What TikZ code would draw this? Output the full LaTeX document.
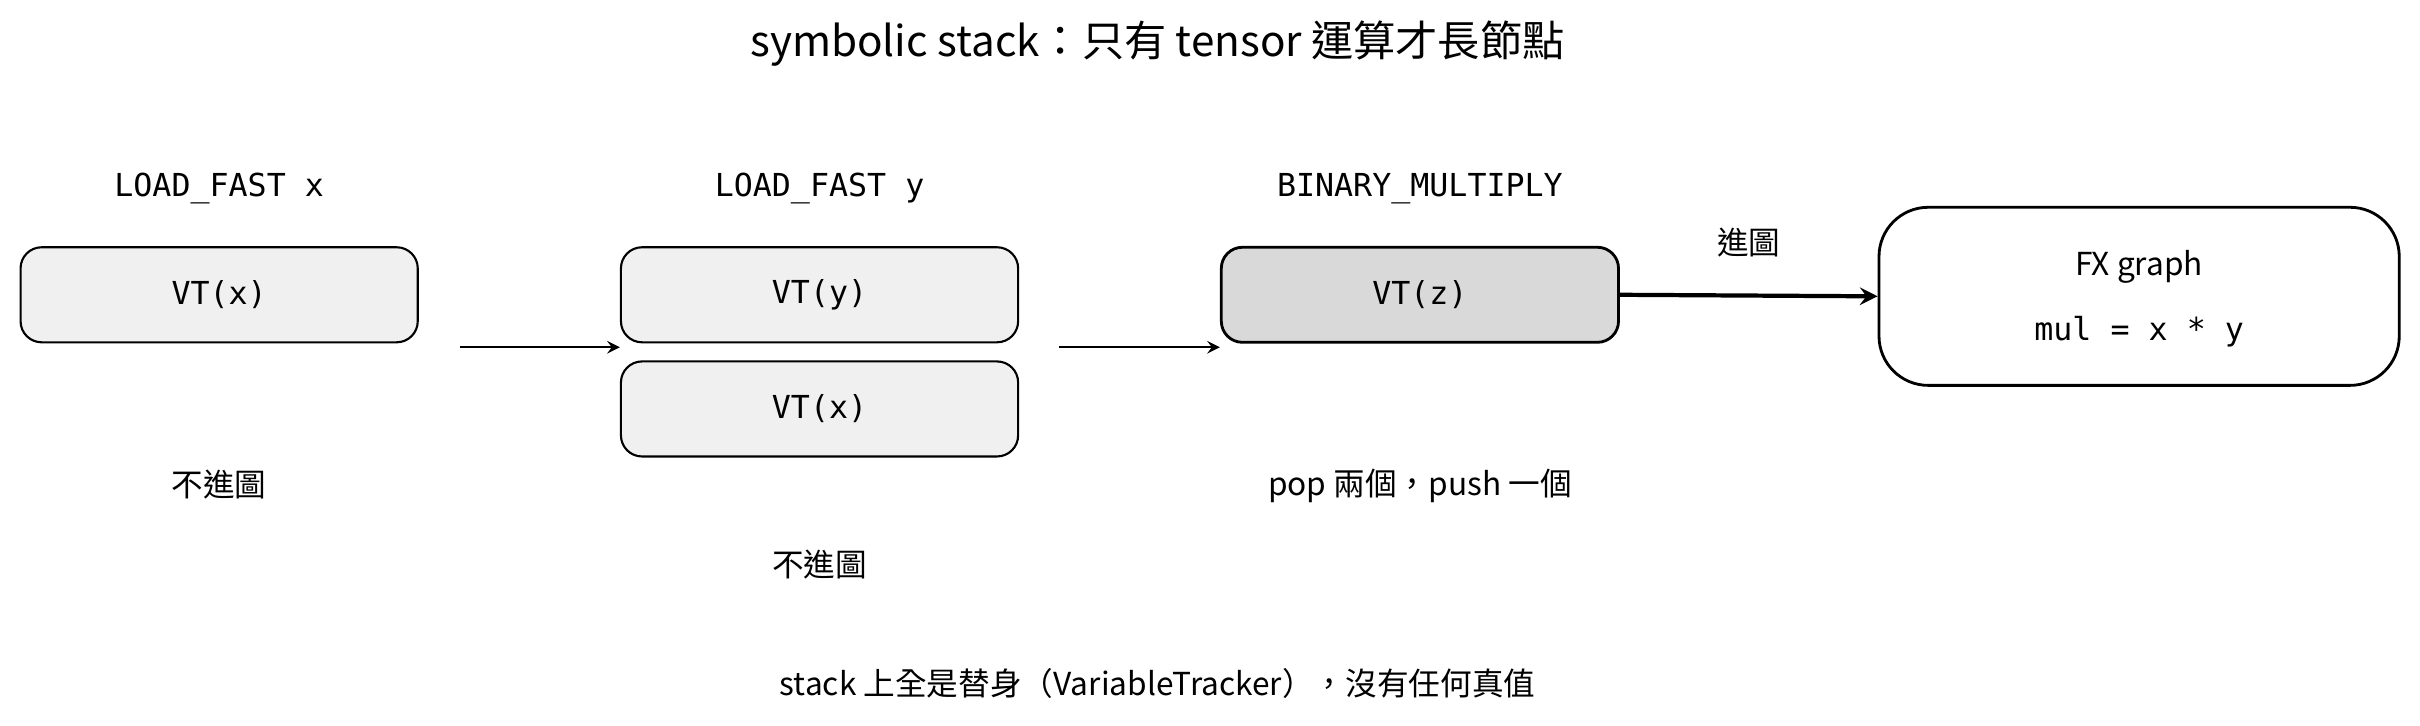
\documentclass[tikz,border=0pt]{standalone}
\usepackage{fontspec}
\setmainfont{Noto Sans CJK TC}
\setmonofont{DejaVu Sans Mono}
\usetikzlibrary{positioning, arrows, calc}
\tikzset{
    vt/.style={ % stack slots
        draw, semithick, rounded corners=6pt,
        fill=gray!12, minimum width=3.97cm, minimum height=0.95cm,
        font=\ttfamily\small
    },
    op/.style={font=\ttfamily\small},
    note/.style={font=\small},
    push/.style={->,>=stealth, semithick}
}

\begin{document}
\begin{tikzpicture}[x=0.01543cm, y=-0.01543cm]
    \useasboundingbox (0,0) rectangle (1568,470);
    \node[font=\large]      (title) at (750,28)  {symbolic stack：只有 tensor 運算才長節點};
    % instruction labels
    \node[op]   (opx)   at (142,122)  {LOAD\_FAST x};
    \node[op]   (opy)   at (531,122)  {LOAD\_FAST y};
    \node[op]   (opmul) at (920,122)  {BINARY\_MULTIPLY};
    % stacks
    \node[vt]                       (sx)  at (142,191) {VT(x)};
    \node[vt]                       (sy)  at (531,191) {VT(y)};
    \node[vt, below=0.17cm of sy]   (sx2)              {VT(x)};
    \node[vt, fill=gray!30, thick]  (sz)  at (920,191) {VT(z)};
    \node[draw, thick, rounded corners=14pt, minimum width=5.2cm, minimum height=1.78cm]
                                    (fx)  at (1386,192) {};
    \node[note]             (fxt) at (1386,173) {FX graph};
    \node[op]               (fxb) at (1386,215) {mul = x * y};
    % transitions
    \coordinate (a1) at (298,225);
    \coordinate (a2) at (686,225);
    \draw[push] (a1) -- (a1 -| sy.west);
    \draw[push] (a2) -- (a2 -| sz.west);
    \draw[push, very thick] (sz.east) -- node[above=0.25cm, note]{進圖} (fx.west);
    % notes
    \node[note] (n1) at (142,314)  {不進圖};
    \node[note] (n2) at (531,366)  {不進圖};
    \node[note] (n3) at (920,315)  {pop 兩個，push 一個};
    \node[note] (n4) at (750,443)  {stack 上全是替身（VariableTracker），沒有任何真值};
\end{tikzpicture}
\end{document}
